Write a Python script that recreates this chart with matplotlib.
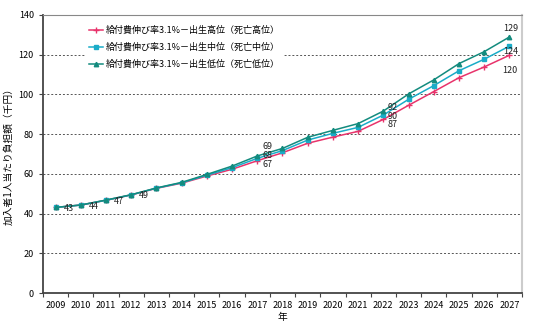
import matplotlib
matplotlib.use("Agg")
import matplotlib.pyplot as plt
from matplotlib.ticker import FixedLocator, NullFormatter

plt.rcParams["font.family"] = ["Noto Sans CJK JP", "DejaVu Sans"]

years = [str(y) for y in range(2009, 2028)]

high_birth = [43.1, 44.3, 46.7, 49.4, 52.7, 55.3, 58.9, 62.3, 66.6, 70.6,
              75.4, 78.5, 81.4, 87.4, 94.5, 101.4, 108.4, 113.8, 119.7]
mid_birth = [43.1, 44.3, 46.7, 49.4, 52.8, 55.5, 59.3, 63.1, 67.8, 71.7,
             77.0, 80.4, 83.4, 89.6, 97.5, 104.4, 111.9, 117.7, 124.3]
low_birth = [43.1, 44.3, 46.8, 49.5, 52.9, 55.7, 59.7, 63.9, 69.0, 72.8,
             78.4, 81.9, 85.3, 91.6, 100.2, 107.3, 115.5, 121.5, 128.9]

series_names = [
    "給付費伸び率3.1%－出生高位（死亡高位）",
    "給付費伸び率3.1%－出生中位（死亡中位）",
    "給付費伸び率3.1%－出生低位（死亡低位）",
]

# years with value labels
early_label_years = ["2009", "2010", "2011", "2012"]
late_label_years = ["2017", "2022", "2027"]

colors = ["#e8336b", "#1aacc8", "#138b7e"]
markers = ["+", "s", "^"]

fig = plt.figure(figsize=(5.34, 3.33), dpi=100)
ax = fig.add_axes([0.0805, 0.1201, 0.897, 0.835])

x = list(range(len(years)))
for values, name, c, m in zip([high_birth, mid_birth, low_birth], series_names, colors, markers):
    ax.plot(x, values, color=c, lw=1.1, marker=m, markersize=3.2 if m != "+" else 4.5,
            mew=1.0, label=name, zorder=3)

# value labels
for yr in early_label_years:
    i = years.index(yr)
    ax.annotate(f"{mid_birth[i]:.0f}", (i, mid_birth[i]), xytext=(8, -1),
                textcoords="offset pixels", fontsize=6.5, va="center", ha="left",
                color="#222222")

offsets = {
    "2017": [(5, -4), (5, 3), (5, 9)],
    "2022": [(4, -5), (4, -1), (4, 4)],
    "2027": [(0, -15), (1, -5), (1, 8)],
}
for yr in late_label_years:
    i = years.index(yr)
    for values, off in zip([high_birth, mid_birth, low_birth], offsets[yr]):
        ax.annotate(f"{values[i]:.0f}", (i, values[i]), xytext=off,
                    textcoords="offset pixels", fontsize=6.5, va="center",
                    ha="left" if yr != "2027" else "center", color="#222222",
                    zorder=5)

ax.set_xlim(-0.5, len(years) - 0.5)
ax.set_ylim(0, 140)
ax.set_yticks(range(0, 141, 20))
ax.yaxis.grid(True, color="#555555", linestyle=(0, (2, 2)), lw=0.7)
ax.set_axisbelow(True)

ax.xaxis.set_major_locator(FixedLocator([i - 0.5 for i in range(len(years) + 1)]))
ax.xaxis.set_major_formatter(NullFormatter())
ax.xaxis.set_minor_locator(FixedLocator(x))
ax.set_xticklabels(years, minor=True)
ax.tick_params(axis="x", which="minor", length=0, pad=6, labelsize=6.5)
ax.tick_params(axis="x", which="major", length=3, direction="out", color="#444444")
ax.tick_params(axis="y", length=3, direction="out", labelsize=6.5, color="#444444")

for side in ["left", "bottom"]:
    ax.spines[side].set_color("#444444")
    ax.spines[side].set_linewidth(1.3)
ax.spines["top"].set_color("#888888")
ax.spines["right"].set_color("#cccccc")
ax.spines["right"].set_linewidth(1.5)

ax.set_ylabel("加入者1人当たり負担額（千円）", fontsize=7, labelpad=4)
ax.set_xlabel("年", fontsize=7, labelpad=1)

leg = ax.legend(loc="upper left", bbox_to_anchor=(0.079, 0.99), fontsize=6.5,
                frameon=True, facecolor="white", edgecolor="none", framealpha=1,
                handlelength=1.6, labelspacing=0.85, borderpad=0.4, handletextpad=0.3)
leg.get_frame().set_linewidth(0)

fig.savefig("out.png", dpi=100)
